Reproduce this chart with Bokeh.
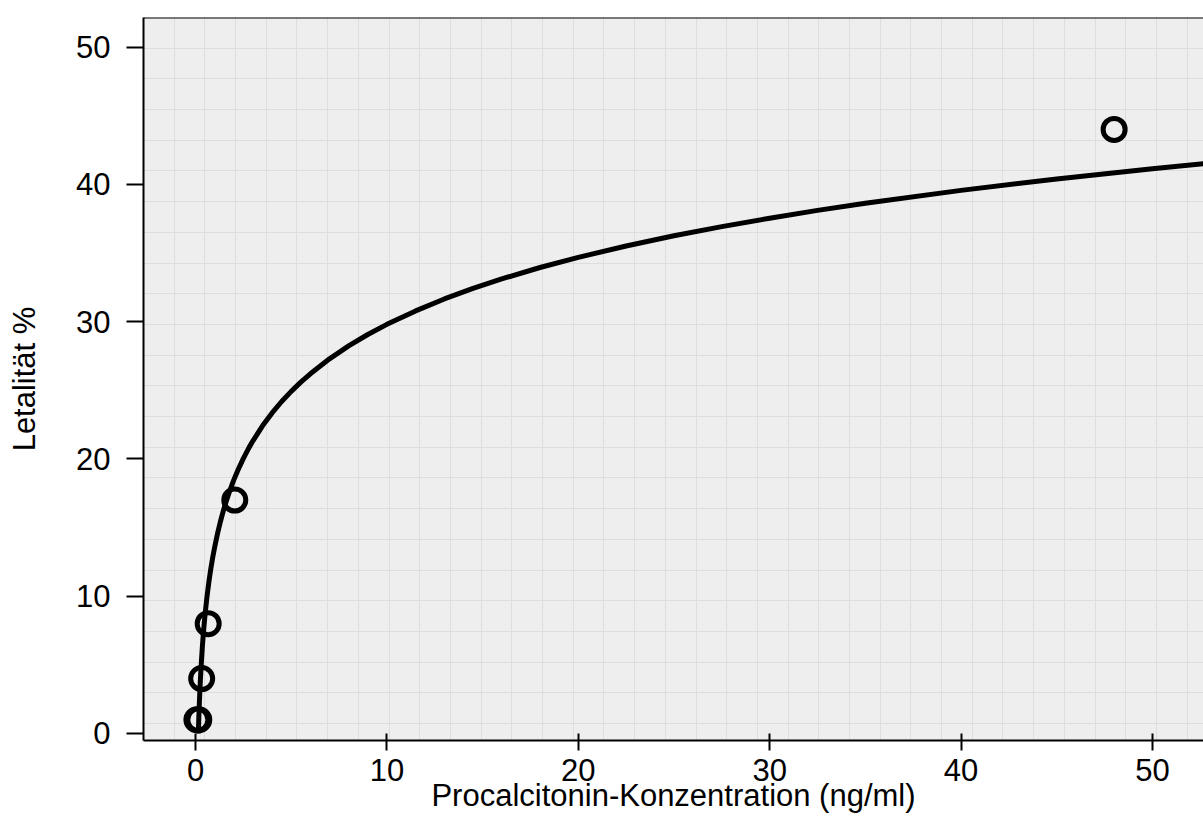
from bokeh.plotting import figure
from bokeh.models import FixedTicker, Span, Range1d
from bokeh.embed import file_html
from bokeh.resources import INLINE

# ---- data ----
point_x = [0.07, 0.17, 0.32, 0.66, 2.05, 48.0]
point_y = [1.0, 1.0, 4.0, 8.0, 17.0, 44.0]

curve_x = [0.145, 0.17, 0.2, 0.25, 0.3, 0.35, 0.4, 0.45, 0.5, 0.6, 0.7, 0.8, 0.9, 1.0,
           1.15, 1.3, 1.45, 1.6, 1.8, 2.0, 2.2, 2.5, 2.8, 3.0, 3.5, 4.0, 4.5, 5.0, 5.5,
           6.0, 7.0, 8.0, 9.0, 10.0, 11.5, 13.0, 14.5, 16.0, 18.0, 20.0, 22.5, 25.0,
           27.5, 30.0, 32.5, 35.0, 40.0, 45.0, 50.0, 53.0]
curve_y = [0.0, 1.12, 2.26, 3.83, 5.11, 6.20, 7.14, 7.97, 8.71, 9.99, 11.08, 12.02,
           12.85, 13.59, 14.57, 15.44, 16.21, 16.90, 17.73, 18.47, 19.14, 20.04, 20.84,
           21.32, 22.41, 23.35, 24.18, 24.92, 25.59, 26.20, 27.29, 28.23, 29.06, 29.80,
           30.78, 31.65, 32.42, 33.11, 33.94, 34.68, 35.51, 36.25, 36.92, 37.53, 38.10,
           38.62, 39.56, 40.39, 41.13, 41.54]

x_ticks = [0, 10, 20, 30, 40, 50]
y_ticks = [0, 10, 20, 30, 40, 50]
x_label = "Procalcitonin-Konzentration (ng/ml)"
y_label = "Letalität %"

# ---- layout / style ----
X0, X1 = -2.72, 52.67
Y0, Y1 = -0.51, 52.15
FONT = "Liberation Sans"

p = figure(width=1203, height=824, output_backend="svg", toolbar_location=None,
           x_range=Range1d(X0, X1), y_range=Range1d(Y0, Y1),
           min_border_left=143, min_border_right=0, min_border_top=17,
           min_border_bottom=84)

p.background_fill_color = "#eeeeee"
p.border_fill_color = "white"
p.outline_line_color = None

# background square texture (~30.7 px cells anchored at top-left of frame)
gx_step = 30.7 / 19.14
gy_step = 30.7 / 13.73
gx = [X0 + k * gx_step for k in range(40)]
gy = [Y1 - k * gy_step for k in range(30)]
p.xgrid.ticker = FixedTicker(ticks=gx)
p.ygrid.ticker = FixedTicker(ticks=gy)
for g in (p.xgrid, p.ygrid):
    g.grid_line_color = "#dedede"
    g.grid_line_width = 1

# axes
p.xaxis.ticker = FixedTicker(ticks=x_ticks)
p.yaxis.ticker = FixedTicker(ticks=y_ticks)
for ax in (p.xaxis, p.yaxis):
    ax.axis_line_color = "black"
    ax.axis_line_width = 2
    ax.major_tick_line_color = "black"
    ax.major_tick_line_width = 2
    ax.minor_tick_line_color = None
    ax.major_label_text_font = FONT
    ax.major_label_text_font_size = "31px"
    ax.major_label_text_color = "black"
    ax.axis_label_text_font = FONT
    ax.axis_label_text_font_size = "31px"
    ax.axis_label_text_font_style = "normal"
    ax.axis_label_text_color = "black"

p.xaxis.major_tick_in = 7
p.xaxis.major_tick_out = 10
p.xaxis.major_label_standoff = 8
p.xaxis.axis_label = x_label
p.xaxis.axis_label_standoff = -6

p.yaxis.major_tick_in = 0
p.yaxis.major_tick_out = 17
p.yaxis.major_label_standoff = 16
p.yaxis.axis_label = y_label
p.yaxis.axis_label_standoff = 31

# top border line
p.add_layout(Span(location=Y1, dimension="width", line_color="black", line_width=2))

# fitted curve and observations
p.line(curve_x, curve_y, line_color="black", line_width=5, line_join="round")
p.scatter(point_x, point_y, marker="circle", size=22, fill_color=None,
          line_color="black", line_width=5)

open("out.html", "w").write(file_html(p, INLINE))
